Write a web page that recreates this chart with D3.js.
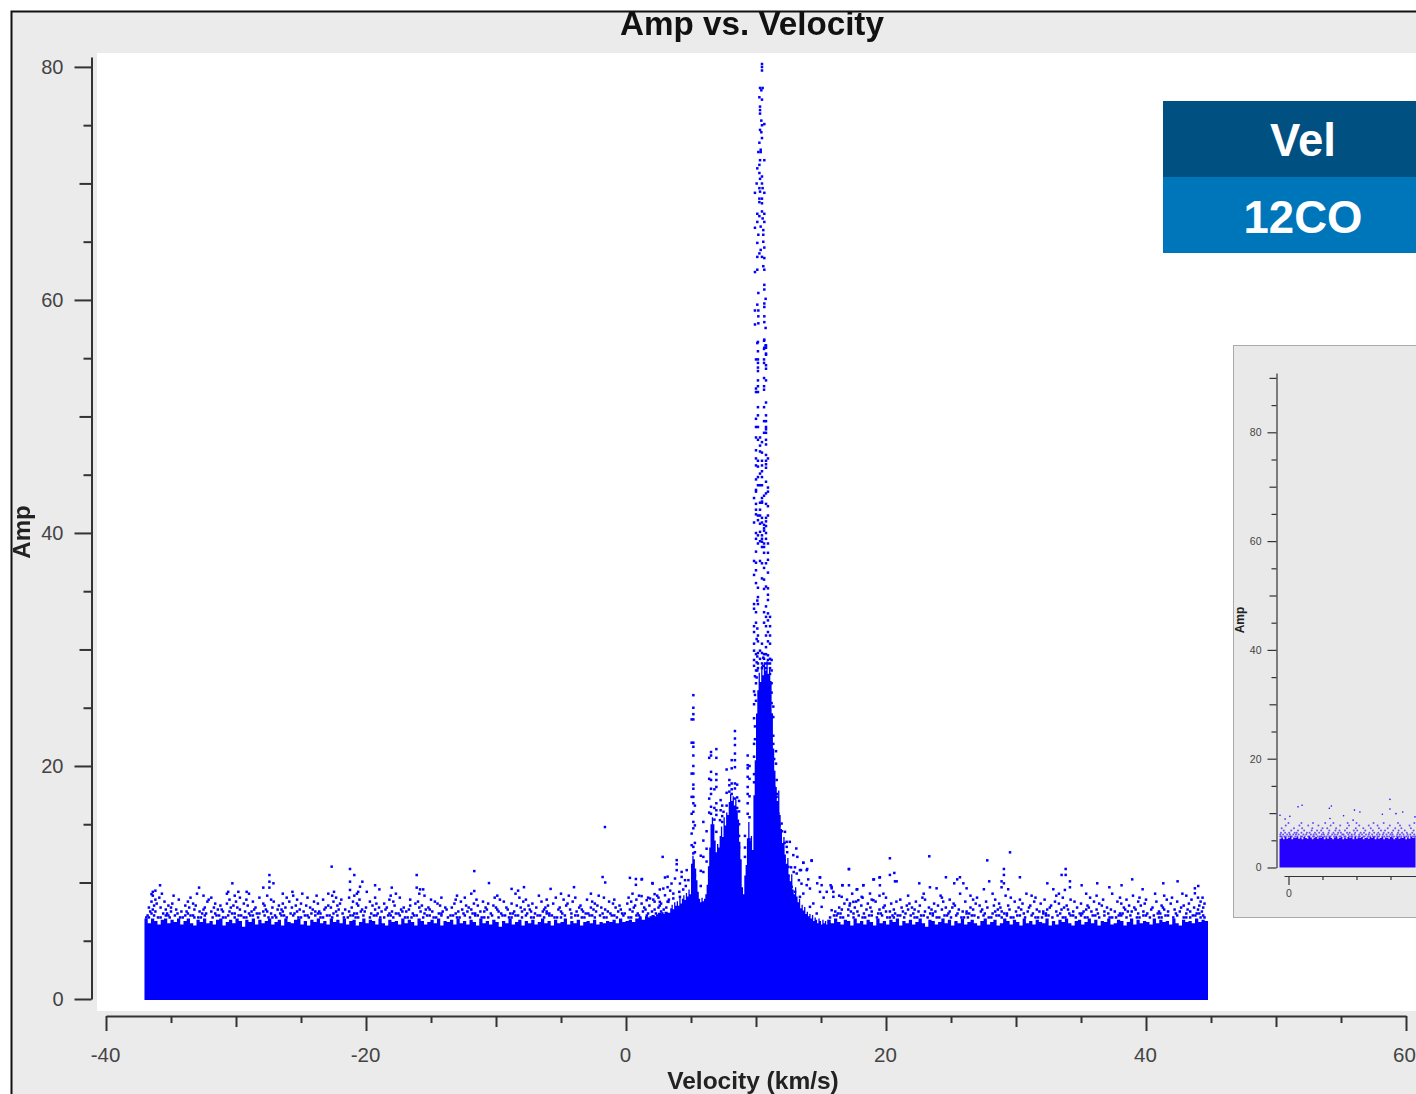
<!DOCTYPE html>
<html><head><meta charset="utf-8">
<script src="https://cdn.jsdelivr.net/npm/d3@7"></script>
<style>html,body{margin:0;padding:0;background:#fff;overflow:hidden}svg{display:block;filter:blur(0.4px)}text{font-family:"Liberation Sans",Arial,sans-serif}</style>
</head><body><svg id="c" width="1416" height="1094"></svg>
<script>
// ---------- chart text ----------
const chartTitle = "Amp vs. Velocity", xTitle = "Velocity (km/s)", yTitle = "Amp";
const legendLabels = ["Vel", "12CO"];
const legendColors = ["#005082", "#0076ba"];
// ---------- main axis ticks ----------
const xMajor = [-40,-20,0,20,40,60], xMedium = [-30,-10,10,30,50], xMinor = [-35,-25,-15,-5,5,15,25,35,45,55];
const yMajor = [0,20,40,60,80], yMedium = [10,30,50,70], yMinor = [5,15,25,35,45,55,65,75];
// ---------- solid body of the cloud: top amplitude read along velocity ----------
const leftRidge = [
6.9,6.5,6.9,6.7,6.4,6.8,6.9,6.5,6.8,6.6,6.9,6.4,6.7,6.9,6.5,6.3,6.8,6.6,6.9,6.5,
6.7,6.4,6.8,6.9,6.3,6.6,6.8,6.5,6.9,6.7,6.2,6.8,6.6,6.9,6.4,6.8,6.5,6.7,6.9,6.4,
6.6,6.8,6.3,6.9,6.6,6.5,6.8,6.9,6.4,6.7,6.3,6.8,6.6,6.9,6.5,6.7,6.4,6.9,6.6,6.8,
6.5,6.9,6.4,6.7,6.8,6.3,6.6,6.9,6.5,6.8,6.7,6.4,6.9,6.5,6.3,6.8,6.6,6.7,6.4,6.9,
6.5,6.8,6.6,6.3,6.9,6.7,6.4,6.6,6.8,6.5,6.9,6.3,6.7,6.6,6.8,6.4,6.9,6.5,6.7,6.4,
6.8,6.6,6.3,6.9,6.5,6.7,6.4,6.8,6.6,6.2,6.7,6.5,6.9,6.4,6.6,6.8,6.3,6.7,6.5,6.8,
6.4,6.6,6.9,6.5,6.7,6.3,6.8,6.5,6.6,6.9,6.4,6.7,6.5,6.8,6.3,6.6,6.7,6.5,6.8,6.4,
6.6,6.5,6.7,6.6,6.8,6.5,6.9,6.6,6.7,6.8,6.6,6.9,7.0,6.8,7.1,7.0,7.2,7.1,7.4,7.3,
7.5,7.4,7.7];
// top of the solid body across the peaks, one value per 0.1 km/s from 3.4 km/s
const peakStart = 3.4, peakStep = 0.1;
const peakAmp = [
7.8,8.1,7.7,8.3,8.0, 8.4,8.0,8.7,8.2,8.6,8.9, 8.5,9.1,8.8,9.4,9.0, 11.6,12.3,12.0,11.2,10.2,
9.2,8.6,8.3,8.7,8.4, 8.6,9.0,9.8,11.4, 13.0,15.0,15.6,15.0,13.6, 12.6,13.3,13.0,14.0,14.8,13.9,
15.6,14.9,16.0,15.8,16.9,17.6, 17.0,17.4,16.6,17.1,16.2,15.4, 13.5,12.0,9.6,9.0,10.6,11.5,
13.8,15.2,13.6,14.0,12.8, 17.5,20.5,24.5,26.5,28.0, 27.2,28.6,27.8,28.9,28.2,29.0,27.9,28.5,27.3,
24.5,21.5,19.6,18.2, 17.0,17.9,15.8,14.6,13.4, 13.9,12.4,11.6,12.1,10.6, 10.1,10.7,9.4,9.0,9.6,
8.8,8.3,8.6,7.8,8.1, 7.6,7.9,7.3,7.5,7.1, 7.3,6.9,7.2,6.7,7.0, 6.8,6.5,6.9,6.7,6.4, 6.8,6.5,6.7,6.4,6.8,6.6];
const rightRidge = [
6.8,6.5,6.9,6.6,6.4,6.8,6.7,6.3,6.9,6.5,6.7,6.4,6.8,6.6,6.3,6.9,6.5,6.7,6.4,6.8,
6.6,6.9,6.3,6.7,6.5,6.8,6.4,6.6,6.9,6.5,6.2,6.8,6.7,6.4,6.6,6.9,6.5,6.8,6.3,6.7,
6.5,6.9,6.4,6.6,6.8,6.5,6.3,6.7,6.9,6.4,6.6,6.8,6.3,6.5,6.9,6.7,6.4,6.8,6.6,6.3,
6.9,6.5,6.7,6.4,6.8,6.6,6.5,6.9,6.3,6.7,6.4,6.8,6.6,6.9,6.5,6.3,6.7,6.8,6.4,6.6,
6.9,6.5,6.8,6.3,6.7,6.6,6.9,6.4,6.5,6.8,6.7,6.3,6.6,6.9,6.4,6.8,6.5,6.7,6.6,6.4,
6.9,6.5,6.8,6.6,6.7,6.4,6.9,6.5,6.3,6.8,6.6,6.7,6.5,6.9,6.6,6.8,6.7,6.8];
// ---------- fringe above the body: velocities of dots estimated row by row ----------
const fringeRows = [
[7.0,[-36.9,-36.7,-36,-35.8,-35.1,-34.3,-34.1,-33.2,-32.9,-32.7,-31.8,-31,-30.8,-30.1,-29.4,-29.2,-28.3,-27.5,-27.2,-26.9,-26.1,-25.2,-25,-24.4,-23.5,-23.3,-22.6,-21.7,-21.4,-20.8,-20.6,-19.7,-18.9,-18.6,-17.9,-17,-16.8,-16.5,-15.6,-14.8,-14.6,-13.7,-13,-12.8,-12,-11.1,-10.9,-10.6,-9.8,-9,-8.8,-8,-7.3,-7.1,-6.3,-5.5,-5.3,-5,-4.2,-3.4,-3.2,-2.4,-1.7,-1.5,-0.7,0.2,0.4,1.1,1.9,2.1,15.7,16.5,16.7,17.5,18.2,18.4,19.3,20.1,20.3,20.6,21.4,22.2,22.4,23.2,23.9,24.1,25,25.8,26,26.3,27.1,27.9,28.1,28.9,29.6,29.8,30.7,31.5,31.7,32,32.8,33.6,33.8,34.6,35.3,35.5,36.4,37.2,37.4,37.7,38.5,39.3,39.5,40.3,41,41.2,42.1,42.9,43.1,43.4,44.2,44.5]],
[7.17,[-36.8,-36.3,-35.4,-35.2,-34.7,-33.9,-33.5,-33.3,-32.4,-31.5,-31.3,-30.6,-29.8,-29.6,-28.9,-28.7,-27.8,-27,-26.5,-26.3,-25.6,-24.7,-24.5,-23.9,-23,-22.8,-22.2,-21.2,-21,-20.2,-19.4,-19.2,-18.3,-18.1,-17.4,-16.3,-16.1,-15.3,-15.1,-14.2,-13.5,-13.3,-12.4,-11.6,-11.4,-10.3,-9.5,-9.3,-8.5,-8.3,-7.7,-6.8,-6.6,-5.9,-5.7,-4.7,-3.9,-3.7,-2.8,-2.6,-2,-1.1,-0.9,-0.2,0.8,1,1.6,2.4,2.6,16,16.2,17.1,17.9,18.7,18.9,19.7,20.5,20.9,21.1,21.9,22.7,22.9,23.6,24.5,24.7,25.4,26.6,26.8,27.5,28.5,28.7,29.3,30.1,30.3,31.2,32.3,32.5,33.2,34.2,34.4,35,35.9,36.1,36.8,37.9,38.1,38.8,39.8,40,40.6,41.5,41.7,42.4,43.6,43.8,44.4]],
[7.34,[-36.5,-35.6,-35.3,-34.5,-33.7,-32.6,-32.3,-31.6,-30.3,-30.1,-29,-28.4,-28.2,-27.3,-26.6,-25.8,-25.5,-24.2,-23.7,-23.5,-22.5,-21.8,-20.9,-20.7,-19.6,-19.1,-18.2,-17.7,-17.5,-16.4,-15.5,-14.4,-14.2,-13.1,-12.5,-11.8,-11.6,-10.4,-9.6,-8.9,-8.7,-7.6,-7,-6.1,-5.9,-4.9,-4.2,-3.1,-2.9,-1.8,-1.2,-0.3,-0.1,0.9,1.7,2.3,2.8,16.3,16.5,17.5,18.3,19.4,19.6,20.7,21.5,22.1,23.4,23.6,24.8,25.5,26.2,26.4,27.6,28.2,29.1,29.3,30.6,31.3,32.1,32.3,33.4,34.1,34.9,35.1,36.3,37.1,38,38.2,39.4,40.1,40.9,41.1,42.3,43.1,43.9,44.1]],
[7.51,[-36.6,-36.2,-35,-34.2,-33.8,-32.8,-31.9,-31,-30.5,-29.3,-28.8,-27.9,-27.6,-26.4,-25.3,-24.8,-23.9,-23.6,-22.3,-21.3,-20.4,-20.1,-18.8,-18,-17.2,-16.9,-15.8,-14.9,-14.1,-12.9,-12.2,-11.2,-10.9,-9.8,-8.6,-8,-7.3,-6.4,-6.1,-5,-3.8,-3.3,-2.3,-1.4,-0.6,0.5,1.3,2,2.7,16.1,17.3,17.8,18.9,20,20.3,21.3,22.5,23,23.8,24.9,25.9,26.2,27.3,28.4,28.9,30,30.9,31.8,32.1,33.1,34.4,35.2,35.8,36.8,37.6,38.6,38.9,39.8,41,41.7,42.6,43.4,44.3]],
[7.68,[-36.4,-35.4,-34.6,-33.2,-32.5,-31.4,-31.1,-29.7,-28.6,-27.7,-26.8,-26.5,-25.1,-24.1,-23.2,-22.1,-21.6,-20.3,-19.3,-18.5,-17.3,-16.7,-15.4,-15.1,-13.8,-12.6,-11.9,-10.7,-9.9,-9.1,-7.8,-7.4,-6.3,-5.2,-4.3,-3.4,-2.5,-1.6,-0.4,0.3,1.5,2.2,2.9,16.6,17.1,18.5,19.5,20.6,21.7,22.2,23.5,24.3,25.6,26.7,27.4,28.6,29.5,30.4,31.6,32.4,33.5,34,35.4,36.2,37.3,38.4,39.2,40.4,41.4,42.2,43.2,44]],
[7.85,[-36.7,-35.8,-35,-33.6,-32.4,-31.7,-30.4,-29.9,-28.5,-27.2,-26.2,-25.7,-24.3,-23.1,-22.7,-21.1,-20,-19,-18.4,-17.1,-15.9,-15.2,-13.9,-13.4,-12.1,-10.8,-10,-9.2,-8.1,-6.9,-6.2,-5.1,-3.6,-2.7,-1.9,-0.8,0.6,1.4,2.5,3.1,16.4,17.6,18.8,19.8,21.2,22,23.3,24.6,25.1,26.5,27.8,28.8,30.2,31,32.6,33.7,34.7,35.6,37,38.3,39.1,40.5,41.3,42.7,43.7,44.4]],
[8.02,[-36.3,-35.2,-33.9,-33.1,-31.2,-30.2,-29.1,-27.8,-26.7,-25.4,-24.6,-22.9,-22.2,-20.6,-19.5,-17.8,-16.6,-15.7,-14.3,-12.3,-11.4,-10.2,-8.4,-7.5,-6,-4.6,-3.5,-2.2,-0.5,0.7,1.8,2.6,17.2,18.1,19.9,21.6,22.6,24,25.3,27.2,28.3,29.4,31.1,32.7,33.9,35.5,36.6,38.7,39.6,41.2,42.9,44.1]],
[8.19,[-36.1,-34.9,-33.3,-31.6,-30.7,-29.4,-27.9,-26.4,-25,-23.7,-22,-20.7,-19.2,-18.6,-16.2,-14.5,-13.2,-11.7,-10.6,-8.8,-7.2,-5.6,-4.5,-2.4,-1,0.1,1.2,2.7,16.8,18.6,20.4,21.8,23.7,25.2,26.9,28.7,30.5,31.9,33.3,35,36.4,38.1,39.9,41.9,43.3,44.5]],
[8.36,[-36.5,-35.5,-33.7,-32.2,-30,-28.7,-27.1,-25.9,-24,-22.5,-21,-19.7,-17.9,-16,-14.7,-12.7,-11,-9.4,-7.9,-6.5,-4.1,-2.6,-1.3,0.4,2.2,3.2,17.7,19.2,20.8,22.3,24.4,26.1,27.7,29.9,31.4,33,34.5,36,37.8,39.4,40.8,42.4,44.2]],
[8.53,[-36.2,-34.4,-32.1,-30.5,-29.2,-27.3,-25.3,-23.3,-21.9,-20.5,-18.2,-16.6,-15,-13.1,-11.5,-9.7,-7.7,-6.1,-4.8,-3,-0.9,0.8,2.1,3.3,17,18.9,21.1,23,24.9,26.7,28.4,30.3,32.2,34.2,36.7,38.5,40,41.6,43.5]],
[8.7,[-35.9,-33.5,-31.9,-29.7,-28.2,-26.1,-24.5,-22.3,-21.3,-19.3,-17.4,-14.2,-12.4,-10.1,-8.2,-5.4,-3.9,-1.7,0.2,1.7,15.2,18.2,20,22.8,24.3,27,29.6,31.5,33.6,35.7,38,39.5,42,44]],
[8.87,[-36.4,-34.8,-32.5,-30.1,-27.6,-25.6,-23.8,-22.6,-20.9,-18.1,-15.5,-13,-9.9,-6.7,-4.4,-2.1,1,2.4,16.4,19.5,21.7,24.2,26.5,29.2,31.2,33.1,36.2,39,41.4,43.1]],
[9.04,[-35.7,-33,-30.7,-29,-26.4,-24.9,-22.9,-20.7,-17.7,-15.9,-11.9,-8.5,-5,-2.7,0.5,17.4,19.8,22.9,25.7,28.2,30.8,33.3,35.4,37.4,40.7,42.8]]
];
// sparse high points read individually, [velocity, amp]
const sparseDots = [
[-22.64,11.36],[-21.23,11.16],[-20.9,10.64],[-21.23,10.07],[-20.28,10.07],[-27.43,10.64],[-27.43,10.07],[-27.12,9.93],[-27.43,9.56],[-27.9,9.56],[-30.28,9.93],[-32.84,9.56],[-35.84,9.76],[-16.1,10.64],[-19.3,9.76],[-18.02,9.56],[-16.1,9.56],[-15.84,9.41],[-15.6,9.41],[-20.46,9.64],[-20.6,9.2],[-21.23,9.36],[-18.97,9.41],[-19.94,9.2],[-22.46,9.2],[-25.66,9.2],[-29.18,9.2],[-29.82,9.2],[-30.6,9.2],[-36.4,9.2],[-36.2,9.3],[-36.5,9.0],
[-1.62,14.76],[-11.67,10.98],[-10.54,9.95],[-1.8,10.47],[-1.6,10.0],[0.3,10.4],[0.76,10.3],[1.23,10.3],[0.76,9.8],[2.03,9.95],[-4.0,9.6],[-7.85,9.6],[3.2,10.5],[-11.67,9.27],[-8.8,9.45],[-8.3,9.3],[-5.8,9.45],
[29.54,12.59],[23.33,12.25],[20.3,12.08],[14.28,11.9],[13.64,11.7],[27.79,11.9],[29.07,11.16],[33.82,11.16],[17.15,11.16],[13.94,11.16],[13.46,11.07],[20.64,10.82],[20.3,10.65],[29.07,10.65],[33.51,10.65],[33.82,10.65],[24.61,10.45],[25.69,10.45],[25.48,10.27],[19.53,10.45],[19.07,10.27],[30.3,10.45],[38.94,10.27],[42.43,10.1],[41.33,9.93],[27.94,10.1],[28.89,10.1],[29.07,9.93],[20.69,10.1],[20.82,10.1],[34.15,10.1],[22.56,9.93],[25.25,9.93],[25.95,9.93],[32.41,9.93],[36.25,9.93],[35.05,9.76],[16.66,9.76],[17.15,9.76],[18.25,9.76],[19.53,9.76],[14.92,10.45],[14.02,10.27],[14.71,9.93],[15.74,9.76],[38.12,9.76],[44.02,9.7],[43.76,9.5],[43.76,9.07],[44.35,8.7],[37.18,9.59],[34.15,9.59],[23.38,9.59],[23.89,9.5],[26.2,9.5],[28.89,9.59],[29.4,9.42],[27.53,9.42],[17.79,9.42],[15.82,9.5],[39.74,9.42],[32.87,9.42],[33.76,9.36],
[11.97,15.06],[12.23,14.35],[11.72,15.92],[12.36,13.49],[12.6,13.49],[13.1,12.92],[12.87,12.35],[14.28,11.86],[13.64,11.69],[13.18,12.2],[12.36,13.06],[13.9,11.06],[13.38,11.06],[12.49,11.34],[13.13,10.77],[14.92,10.43],[15.05,9.77],[15.82,9.63],[15.95,9.2],[16.64,9.77],[17.15,11.14],[18.26,9.77],[19.03,10.26],[19.5,10.43],[17.74,9.4],[18.13,8.77],[18.77,9.05],[15.95,8.77],[16.59,8.77],[15.44,9.2],[14.92,9.2],[13.9,9.77],[14.15,9.48],[13.64,9.05],[13.38,8.77],[12.74,9.63],[13,9.2],[14.41,8.2],[15.05,7.91],[15.82,7.62],[17.23,8.2],[17.49,8.34],[17.87,8.48],[19.03,8.48],[14.15,7.91],[14.67,7.34],
[2.82,12.2],[3.9,11.92],[3.9,11.57],[3.0,10.43],[1.2,10.26],[2.05,9.91],[4.28,10.91],[3.9,11.06],[4.67,11.06],[4.28,10.48],[3.77,10.34],[4.54,10.2],[4.15,9.91],[2.87,9.48],[2.6,9.4],[3.5,9.91],[3.64,9.05],[1.2,8.83],[1.85,8.63],[1.59,8.48],[2.6,8.34],[3.26,8.34],[3.64,8.63],[4.15,8.77],
[3.4,9.3],[3.0,8.9],[2.5,8.7],[4.4,9.4],[4.6,9.7],[4.8,10.2],[4.1,9.2],[3.2,9.6],[2.2,9.0],[12.0,12.2],[12.2,11.9],[12.4,12.6],[12.7,11.3],[12.9,10.9],[13.3,10.2],[13.5,9.9],[13.0,11.3],[12.5,10.6],[12.2,13.4],[12.0,14.4],[11.9,13.8],[11.8,14.9],[11.6,15.6],[11.5,16.4],[11.6,17.6],[11.4,18.2],[11.3,19.6],[11.4,20.6]
];
// columns of points in the side spikes, [velocity, amps]
const sideSpikes = [
[5.18,[26.08,25.0,24.45,24.0,22.0,21.65,20.9,20.0,19.35,18.4,18.05,17.35,16.8,16.07,15.2,14.65,13.06,12.5]],
[5.05,[24.0,22.0,19.35,17.35,15.9,14.2,13.2]],
[5.3,[16.6,14.9,13.4,12.6,10.6,9.5]],
[5.75,[12.3,11.0,9.7]],[5.95,[15.2,13.6,12.2,10.9]],
[6.95,[21.45,20.7,19.3,18.8,18.2,16.8,16.2,15.8,14.35]],
[6.8,[18.0,16.4,15.4]],
[6.54,[21.2,20.9,19.5,18.8,18.05,17.6,16.5,15.9]],
[6.4,[20.7,18.9,17.2,16.0]],[6.2,[14.4,12.9,11.8]],
[8.38,[23.0,22.36,21.8,21.07,20.5,19.9,18.5,18.07,17.2]],
[8.13,[20.5,19.8,18.5,18,17.6]],[7.74,[19.7,17.7,16.6]],[7.95,[18.8,18.35,17.8]],
[7.4,[16.6,15.7,15.2]],[8.7,[17.0,16.1,15,14,13]],[8.55,[18.4,17.3,16.4]],
[9.36,[20.9,20.07,19.8,19.07,18.2,17.6,16.8,15.9]],
[9.5,[20.0,18.9,17.4,15.6,13.7]],[9.15,[14,13,12.2]],[9.85,[21.9,20.8,19.3,18.6]],
[11.54,[21.27,20.2]],[11.33,[21.9,19.2,22.6,25.1,24.2]],[11.59,[18.8,17.35]],
[7.28,[17.07,16.2]],[7.5,[16.07]],[7.23,[15.35]]
];
// columns of points in the main spike, [velocity, amps]
const peakColumns = [
[9.85,[43.0,40.9,37.6,36.4,33.9,33.5,32.0,31.5,30.5,29.9,29.1,28.6,26.4,25.3,24.1]],
[9.92,[69.2,66.2,62.4,59.1,57.9,27.7,26.1,23.4,22.3]],
[10.0,[54.9,52.4,52.1,49.8,49.1,48.2,47.1,46.4,45.8,44.6,43.7,43.55,42.5,42.0,41.6,40.0,39.5,38.4,37.45,36.8,35.7,33.2,32.3,29.6,28.2,27.1,25.6]],
[10.05,[70.0,30.9,28.9,27.6]],
[10.1,[71.3,67.4,66.7,64.9,63.7,62.6,59.6,56.3,34.2,31.8,29.4,28.2]],
[10.15,[56.4,55.6,54.9,54.6,54.2,53.9,53.1,52.6,52.1,50.8,50.1,49.1,48.0,46.2,45.7,44.8,44.1,41.5,41.1,39.8,39.1,35.3,34.5,33.9,31.2,30.7,29.7,28.8,28.4]],
[10.18,[72.7,65.6,60.6,59.1,58.6,58.0]],
[10.26,[77.4,73.5,71.6,70.9,69.6,68.7,68.4,67.2,64.0]],
[10.31,[78.2,76.6,76.3,76.0,74.6,72.0,70.4,69.3,48.2,47.5,47.0,45.1,44.1,42.6,42.0,41.5,40.8,40.1,39.3,37.6,29.9,29.2]],
[10.36,[72.9,72.7,66.3,64.3]],
[10.41,[78.0,75.4,74.4]],
[10.46,[80.26,80.0,79.7,77.2,75.0,73.9,70.6,70.0,68.7,68.3,67.6,63.7,47.8,46.9,46.2,45.8,45.3,44.8,44.1,43.0,42.6,42.7,41.3,40.9,39.8,39.5,39.25,38.8,37.4,36.1,30.5,29.7,28.8,28.4]],
[10.51,[78.2,69.6,67.0]],
[10.56,[66.0,65.6,65.0,62.9,29.3,28.6]],
[10.62,[56.5,55.8,54.9,54.6,53.3,52.6,52.3,50.8,49.6,48.6,43.2,40.7,40.4,40.2,39.1,38.8,38.3,37.0,36.0,35.2,33.2,32.3,29.6,29.2]],
[10.64,[75.1,72.0,69.2,67.4,66.7,64.5,63.6,62.6,61.3,60.9,59.7,59.4,58.6,58.1,56.6,55.9]],
[10.74,[60.1,57.6,56.1]],
[10.77,[56.1,55.9,55.4,55.3,54.4,54.1,53.1,51.2,50.1,49.6,49.1,48.9,48.6,48.0,47.6,46.7,46.2,45.9,45.6,44.4,43.4,42.5,41.3,41.0,40.6,40.0,39.5,37.4,35.4,33.7,32.8,32.0,31.2,30.2,29.6,28.8,28.4]],
[10.92,[46.4,43.9,43.55,42.3,41.5,39.1,38.3,37.7,36.6,35.25,34.7,34.25,33.1,32.5,31.5,30.7,29.5,28.8,29.1]],
[11.08,[32.8,32.0,31.2,30.5,29.2,28.8,28.4,27.9]],
[11.2,[29.1,28.2,27.1,26.3,25.4,24.4]]
];
// ---------- inset panel ----------
const insetYMajor = [0,20,40,60,80], insetYMedium = [10,30,50,70,90], insetYMinor = [5,15,25,35,45,55,65,75,85];
const insetXMajor = [0], insetXMinor = [5,10,15];
const insetRidge = [5.3,5.5,5.2,5.6,5.3,5.4,5.7,5.2,5.5,5.4,5.6,5.3,5.5,5.2,5.6,5.4,5.3,5.7,5.5,5.2,5.4,5.6,5.3,5.5,5.4,5.7,5.2,5.5,5.3,5.6,5.4,5.2,5.5,5.7,5.3,5.4,5.6,5.2,5.5,5.3,5.6,5.4,5.5,5.2,5.7,5.3,5.5,5.4,5.6,5.2,5.4,5.5,5.3,5.6,5.4,5.7,5.2,5.5,5.3,5.4,5.6,5.2,5.5,5.4,5.3,5.6,5.5,5.2,5.4,5.7,5.3,5.5,5.4,5.6,5.2,5.5,5.3,5.6,5.4,5.5,5.3];
const insetFringeRows = [
[5.7,[-1.2,-1,-0.6,-0.4,0,0.3,0.5,1,1.3,1.8,2,2.4,2.9,3.1,3.6,3.8,4.3,4.6,4.8,5.3,5.6,6,6.2,6.7,7,7.5,7.7,8.2,8.4,8.9,9.2,9.4,9.9,10.3,10.5,11,11.2,11.7,12,12.4,12.7,13.1,13.3,13.8,14.1,14.5,14.8,15.2,15.5,15.9,16.3,16.6,17,17.3,17.6,18,18.3,18.6]],
[6.05,[-1.2,-0.8,-0.2,0.2,0.7,1.1,1.5,2.2,2.6,3.3,3.7,4.1,4.9,5.2,5.8,6.4,6.8,7.2,7.9,8.1,8.8,9.3,9.7,10.4,10.8,11.4,11.8,12.3,13,13.4,13.9,14.4,15,15.3,16,16.4,16.9,17.5,17.9,18.5]],
[6.4,[-1.1,-0.5,0.1,0.9,1.2,1.9,2.7,3.1,3.9,4.5,5.1,5.9,6.6,7.3,7.7,8.6,9,9.8,10.6,11.1,11.9,12.6,13.2,14,14.7,15.2,16.1,16.7,17.4,18.2]],
[6.8,[-0.7,0.4,1.4,2.3,3.4,4.2,4.8,6,6.9,7.5,8.3,9.6,10.1,11.3,12.4,13.6,14.2,15.4,16.2,17.1,18.4]],
[7.2,[-1,0.8,2,3.5,5,5.7,7,8.6,9.9,11,12.1,13.3,14.6,15.7,16.6,18]],
[7.7,[-0.4,1.6,2.9,4.4,6.2,7.6,8.9,10.4,11.8,13.1,14.9,16.4,17.8]],
[8.2,[0,1.9,3.6,5.4,6.6,8.7,10,12.5,14,16.1,18.5]]
];
const insetSparse = [[14.92,12.53],[14.92,10.76],[13.8,9.8],[15.8,9.9],[16.8,10.2],[10.5,10.2],[9.7,10.55],[6.3,11.3],[6.0,10.9],[2.0,11.45],[1.4,11.15],[-1.25,9.6],[-0.5,8.9],[0.2,9.4],[6.1,9.0],[8.1,9.5],[9.5,8.7],[18.6,9.3],[19,8.9]];

// ---------- drawing ----------
const svg = d3.select("#c");
const blue = "#0000ff";

svg.append("rect").attr("x",12).attr("y",12).attr("width",1404).attr("height",1082).attr("fill","#ebebeb");
svg.append("path").attr("d","M11.5,1094V11.5H1416").attr("fill","none").attr("stroke","#111").attr("stroke-width",2);
svg.append("rect").attr("x",97).attr("y",53).attr("width",1319).attr("height",958).attr("fill","#fff");

const x = d3.scaleLinear().domain([-40,60]).range([106,1406]);
const y = d3.scaleLinear().domain([0,80]).range([999,67]);
const baseline = y(-0.08);

const plot = svg.append("g");
const stepArea = d3.area().x(d=>x(d[0])).y0(baseline).y1(d=>y(d[1])).curve(d3.curveStepAfter);
const leftV = leftRidge.map((_,i)=>-37.04+i*0.25);
const rightV = rightRidge.map((_,i)=>15.5+i*(44.77-15.5)/(rightRidge.length-1));
plot.append("path").datum(leftRidge.map((a,i)=>[leftV[i],a])).attr("d",stepArea).attr("fill",blue);
plot.append("path").datum(peakAmp.map((a,i)=>[peakStart+i*peakStep,a])).attr("d",stepArea).attr("fill",blue);
plot.append("path").datum(rightRidge.map((a,i)=>[rightV[i],a])).attr("d",stepArea).attr("fill",blue);

const mainDots = [
  ...fringeRows.flatMap(([a,vs])=>vs.map(v=>[v,a])),
  ...sparseDots,
  ...sideSpikes.flatMap(([v,as])=>as.map(a=>[v,a])),
  ...peakColumns.flatMap(([v,as])=>as.map(a=>[v,a]))
];
plot.selectAll("rect.d").data(mainDots).join("rect").attr("class","d")
  .attr("x",d=>x(d[0])-1.25).attr("y",d=>y(d[1])-1.25).attr("width",2.5).attr("height",2.5).attr("fill",blue);

function tickAxis(gen, scale, tx, ty, vals, size, labels, pad, fs){
  const ax = gen(scale).tickValues(vals).tickSize(size).tickSizeOuter(0).tickPadding(pad)
    .tickFormat(labels ? (d=>String(d)) : "");
  const g = svg.append("g").attr("transform",`translate(${tx},${ty})`).call(ax);
  g.selectAll("path.domain").attr("stroke","#333").attr("stroke-width",labels?fs.w:0);
  g.selectAll("line").attr("stroke","#333").attr("stroke-width",fs.w);
  g.selectAll("text").attr("font-size",fs.s).attr("fill","#444").attr("font-family",'"Liberation Sans",Arial,sans-serif');
  return g;
}
const mainF = {s:20,w:2};
const xF = {s:20.5,w:2};
// y axis: domain carried a little above the 80 tick
const yAxisScale = d3.scaleLinear().domain([0,80.85]).range([999,57]);
tickAxis(d3.axisLeft,yAxisScale,91.5,0,yMajor,17,true,11,mainF);
tickAxis(d3.axisLeft,yAxisScale,91.5,0,yMedium,12,false,0,mainF);
tickAxis(d3.axisLeft,yAxisScale,91.5,0,yMinor,8,false,0,mainF);
const bottom = tickAxis(d3.axisBottom,x,0,1016,xMajor,15,true,16,xF);
bottom.selectAll("text").attr("dx",-1);
bottom.selectAll("text").filter(d=>d===60).attr("dx",-2);
tickAxis(d3.axisBottom,x,0,1016,xMedium,11,false,0,xF);
tickAxis(d3.axisBottom,x,0,1016,xMinor,7,false,0,xF);

svg.append("text").attr("x",752).attr("y",34.5).attr("text-anchor","middle").attr("font-size",33.2).attr("font-weight","bold").attr("fill","#111").text(chartTitle);
svg.append("text").attr("x",753).attr("y",1089).attr("text-anchor","middle").attr("font-size",24.5).attr("font-weight","bold").attr("fill","#222").text(xTitle);
svg.append("text").attr("transform","translate(30,532) rotate(-90)").attr("text-anchor","middle").attr("font-size",24).attr("font-weight","bold").attr("fill","#222").text(yTitle);

// legend blocks
legendLabels.forEach((t,i)=>{
  svg.append("rect").attr("x",1163).attr("y",101+76*i).attr("width",253).attr("height",76).attr("fill",legendColors[i]);
  svg.append("text").attr("x",1303).attr("y",156+77*i).attr("text-anchor","middle").attr("font-size",45.5).attr("font-weight","bold").attr("fill","#fff").text(t);
});

// inset
svg.append("rect").attr("x",1233.5).attr("y",345.5).attr("width",190).attr("height",572).attr("fill","#e9e9e9").attr("stroke","#aaa").attr("stroke-width",1);
const ix = d3.scaleLinear().domain([0,20]).range([1288.5,1424.5]);
const iy = d3.scaleLinear().domain([0,90.9]).range([867.5,373]);
const inset = svg.append("g");
const insetBlue = "#2600ff";
const iArea = d3.area().x(d=>ix(d[0])).y0(iy(0)).y1(d=>iy(d[1])).curve(d3.curveStepAfter);
inset.append("path").datum(insetRidge.map((a,i)=>[-1.32+i*0.25,a])).attr("d",iArea).attr("fill",insetBlue);
inset.selectAll("circle.f").data(insetFringeRows.flatMap(([a,vs])=>vs.map(v=>[v,a]))).join("circle").attr("class","f")
  .attr("cx",d=>ix(d[0])).attr("cy",d=>iy(d[1])).attr("r",1.0).attr("fill",insetBlue).attr("fill-opacity",0.65);
inset.selectAll("circle.s").data(insetSparse).join("circle").attr("class","s")
  .attr("cx",d=>ix(d[0])).attr("cy",d=>iy(d[1])).attr("r",0.8).attr("fill",insetBlue);

const insetF = {s:10.5,w:1.2};
tickAxis(d3.axisLeft,iy,1276.5,0,insetYMajor,9,true,6,insetF);
tickAxis(d3.axisLeft,iy,1276.5,0,insetYMedium,7,false,0,insetF);
tickAxis(d3.axisLeft,iy,1276.5,0,insetYMinor,5,false,0,insetF);
const ixAxis = d3.scaleLinear().domain([-0.66,20]).range([1284,1424.5]);
tickAxis(d3.axisBottom,ixAxis,0,876,insetXMajor,9,true,5,insetF);
tickAxis(d3.axisBottom,ixAxis,0,876,insetXMinor,4,false,0,insetF);
svg.append("text").attr("transform","translate(1244,620) rotate(-90)").attr("text-anchor","middle").attr("font-size",12).attr("font-weight","bold").attr("fill","#222").text(yTitle);
</script></body></html>
